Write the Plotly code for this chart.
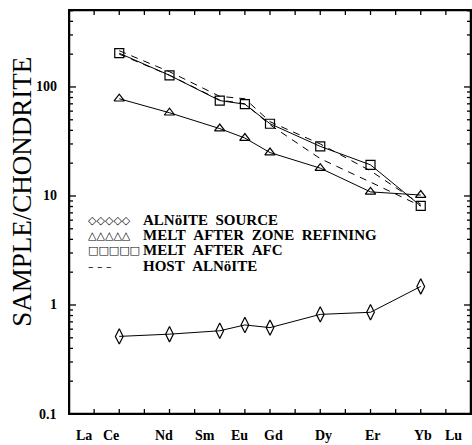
import math
import plotly.graph_objects as go

# Element axis (atomic number) and tick labels
atomic_numbers = list(range(57, 72))
label_names = ["La", "Ce", "Nd", "Sm", "Eu", "Gd", "Dy", "Er", "Yb", "Lu"]
label_pos = [56.6, 57.66, 59.8, 61.4, 62.78, 64.15, 66.12, 68.08, 70.1, 71.3]

# Elements analysed: Ce Nd Sm Eu Gd Dy Er Yb
ree_x = [58, 60, 62, 63, 64, 66, 68, 70]
alnoite_source = [0.515, 0.54, 0.58, 0.656, 0.62, 0.82, 0.857, 1.48]
melt_zone_refining = [78, 58, 41.5, 34, 25, 18, 10.9, 10.2]
melt_afc = [204, 128, 75, 69.5, 46, 28.5, 19.3, 8.1]
host_alnoite_a = [215, 138, 82, 78, 48, 30, 17, 8.4]
host_alnoite_b = [200, 128, 76, 70, 45, 22, 13.4, 8.1]

y_major = [0.1, 1, 10, 100]
y_major_text = ["0.1", "1", "10", "100"]
y_minor = [m * d for d in (0.1, 1, 10, 100) for m in range(2, 10) if m * d <= 500]

NB = "\u00a0\u00a0"
legend_items = [
    ("◇◇◇◇◇", "ALNöITE" + NB + "SOURCE"),
    ("△△△△△", "MELT" + NB + "AFTER" + NB + "ZONE" + NB + "REFINING"),
    ("□□□□□", "MELT" + NB + "AFTER" + NB + "AFC"),
    ("– – –", "HOST" + NB + "ALNöITE"),
]

FONT = "Liberation Serif"
W, H = 472, 445
ML, MR, MT, MB = 69, 1, 10, 31
PH = H - MT - MB
PW = W - ML - MR
X_RANGE = [56, 72]
Y_RANGE = [-1, 2.706]
XSPAN = X_RANGE[1] - X_RANGE[0]
YSPAN = Y_RANGE[1] - Y_RANGE[0]


def yfrac(v):
    return (math.log10(v) - Y_RANGE[0]) / YSPAN


fig = go.Figure()
fig.add_trace(go.Scatter(
    x=ree_x, y=alnoite_source, mode="lines+markers",
    line=dict(color="black", width=1),
    marker=dict(symbol="diamond-tall-open", size=11, color="black", line=dict(width=1.2))))
fig.add_trace(go.Scatter(
    x=ree_x, y=melt_zone_refining, mode="lines+markers",
    line=dict(color="black", width=1),
    marker=dict(symbol="triangle-up-open", size=9, color="black", line=dict(width=1.2))))
fig.add_trace(go.Scatter(
    x=ree_x, y=melt_afc, mode="lines+markers",
    line=dict(color="black", width=1),
    marker=dict(symbol="square-open", size=9, color="black", line=dict(width=1.2))))
fig.add_trace(go.Scatter(
    x=ree_x, y=host_alnoite_a, mode="lines",
    line=dict(color="black", width=1, dash="7px,6px")))
fig.add_trace(go.Scatter(
    x=ree_x, y=host_alnoite_b, mode="lines",
    line=dict(color="black", width=1, dash="7px,6px")))

# Inward axis ticks, built from the tick lists and the axis ranges
ylo, yhi = 10 ** Y_RANGE[0], 10 ** Y_RANGE[1]
xt_len = 10 ** (5 / PH * YSPAN)          # 5 px in log units
tx, ty = [], []
for n in atomic_numbers:
    tx += [n, n, None, n, n, None]
    ty += [ylo, ylo * xt_len, None, yhi, yhi / xt_len, None]
for vals, length in ((y_major, 7), (y_minor, 4)):
    dx = length / PW * XSPAN
    for v in vals:
        tx += [X_RANGE[0], X_RANGE[0] + dx, None, X_RANGE[1], X_RANGE[1] - dx, None]
        ty += [v, v, None, v, v, None]
fig.add_trace(go.Scatter(x=tx, y=ty, mode="lines", hoverinfo="skip",
                         line=dict(color="black", width=1.3)))
# Frame drawn along the range edges (inner half) to back up the frame shape
fig.add_trace(go.Scatter(
    x=[X_RANGE[0], X_RANGE[1], X_RANGE[1], X_RANGE[0], X_RANGE[0]],
    y=[ylo, ylo, yhi, yhi, ylo], mode="lines", hoverinfo="skip",
    line=dict(color="black", width=2.5)))

shapes = [dict(type="rect", xref="paper", yref="paper", x0=0, x1=1, y0=0, y1=1,
               fillcolor="rgba(0,0,0,0)", opacity=1,
               line=dict(color="black", width=2), layer="above")]

annotations = [dict(text="SAMPLE/CHONDRITE", textangle=-90, xref="paper", yref="paper",
                    x=0, y=0.55, xshift=-47, xanchor="center", yanchor="middle",
                    showarrow=False, font=dict(family=FONT, size=27))]
for name, pos in zip(label_names, label_pos):
    annotations.append(dict(text=name, xref="x", yref="paper", x=pos, y=0, yshift=-21,
                            xanchor="center", yanchor="middle", showarrow=False,
                            font=dict(family=FONT, size=14, color="black", weight="bold")))
for txt, v in zip(y_major_text, y_major):
    annotations.append(dict(text=txt, xref="paper", yref="paper", x=0, y=yfrac(v),
                            xshift=-10, xanchor="right", yanchor="middle", showarrow=False,
                            font=dict(family=FONT, size=14, color="black", weight="bold")))
row_y = [220, 235, 250, 266]
for (sym, txt), py in zip(legend_items, row_y):
    yp = (H - MB - py) / PH
    annotations.append(dict(text=sym, xref="paper", yref="paper", x=0, y=yp,
                            xshift=86 - ML, xanchor="left", yanchor="middle", showarrow=False,
                            font=dict(family="DejaVu Sans", size=11, color="black")))
    annotations.append(dict(text=txt, xref="paper", yref="paper", x=0, y=yp,
                            xshift=141 - ML, xanchor="left", yanchor="middle", showarrow=False,
                            font=dict(family=FONT, size=15, color="black", weight="bold")))

fig.update_layout(
    template="none",
    width=W, height=H,
    margin=dict(l=ML, r=MR, t=MT, b=MB),
    paper_bgcolor="white", plot_bgcolor="white",
    font=dict(family=FONT, size=13, color="black"),
    showlegend=False,
    annotations=annotations,
    shapes=shapes,
    xaxis=dict(range=X_RANGE, showticklabels=False, ticks="", showline=False,
               showgrid=False, zeroline=False),
    yaxis=dict(type="log", range=Y_RANGE, showticklabels=False, ticks="", showline=False,
               showgrid=False, zeroline=False),
)

fig.write_html("out.html", post_script="document.body.style.margin='0px';",
               config={"displayModeBar": False})
